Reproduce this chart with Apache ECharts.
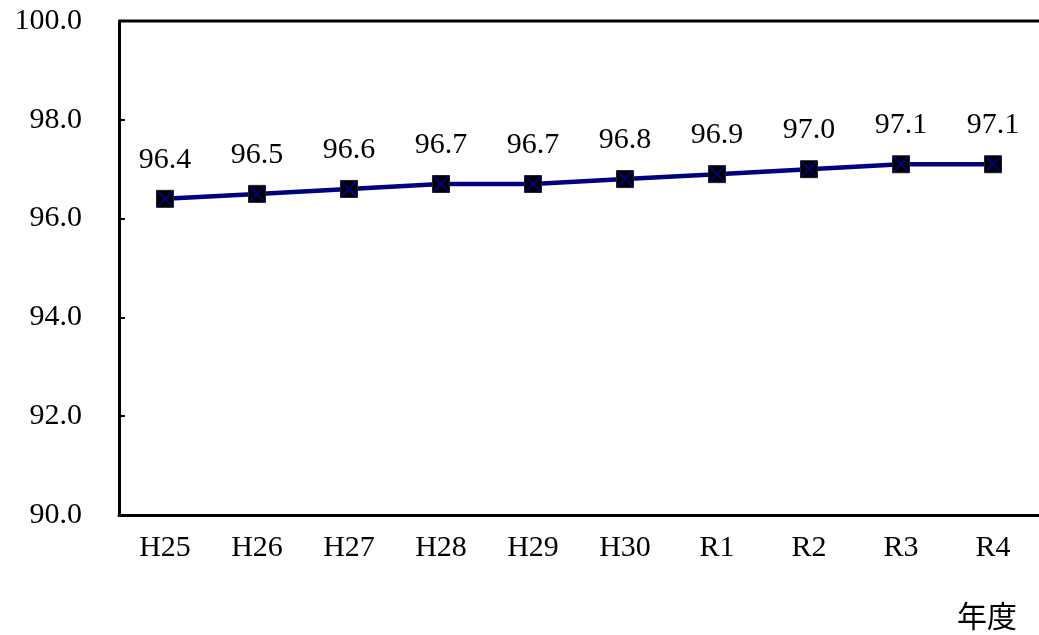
<!DOCTYPE html>
<html><head><meta charset="utf-8">
<script src="https://cdn.jsdelivr.net/npm/echarts@6/dist/echarts.min.js"></script>
<style>html,body{margin:0;padding:0;background:#fff}#c{width:1039px;height:635px}</style>
</head><body><div id="c"></div>
<script>
const categories = ['H25','H26','H27','H28','H29','H30','R1','R2','R3','R4'];
const values = [96.4,96.5,96.6,96.7,96.7,96.8,96.9,97.0,97.1,97.1];
const yMin = 90, yMax = 100, yStep = 2;
const axisName = '年度';

const font = '"Liberation Serif","DejaVu Serif","Noto Sans CJK JP",serif';
const chart = echarts.init(document.getElementById('c'));
chart.setOption({
  animation: false,
  backgroundColor: '#fff',
  grid: { left: 119, top: 21, width: 930, height: 494 },
  xAxis: {
    type: 'category', data: categories, boundaryGap: true,
    axisLine: { lineStyle: { color: '#000', width: 3 } },
    axisTick: { inside: true, length: 10, lineStyle: { color: '#000', width: 2 } },
    axisLabel: { color: '#000', fontFamily: font, fontSize: 30, margin: 18 },
    splitLine: { show: false }
  },
  yAxis: {
    type: 'value', min: yMin, max: yMax, interval: yStep,
    axisLine: { show: true, lineStyle: { color: '#000', width: 3 } },
    axisTick: { show: true, inside: true, length: 6, lineStyle: { color: '#000', width: 2 } },
    axisLabel: { color: '#000', fontFamily: font, fontSize: 30, margin: 37,
      formatter: v => v.toFixed(1) },
    splitLine: { show: false }
  },
  graphic: [
    { type: 'line', shape: { x1: 119, y1: 21, x2: 1039, y2: 21 }, style: { stroke: '#000', lineWidth: 3 } },
    { type: 'text', left: 957, top: 601, style: { text: axisName, font: '30px "Noto Sans CJK JP",serif', fill: '#000' } }
  ],
  series: [
    {
      type: 'line', data: values, symbol: 'rect', symbolSize: 17,
      lineStyle: { color: '#000080', width: 4.5 },
      itemStyle: { color: '#000', borderColor: '#222', borderWidth: 1 },
      label: { show: true, position: 'top', distance: 15, color: '#000', fontFamily: font, fontSize: 30,
        formatter: p => p.value.toFixed(1) },
      z: 2
    },
    {
      type: 'line', data: values, symbol: 'path://M0,0 L10,10 M10,0 L0,10', symbolSize: 15,
      lineStyle: { opacity: 0 },
      itemStyle: { color: 'rgba(0,0,0,0)', borderColor: '#000080', borderWidth: 2 },
      z: 3, silent: true
    }
  ]
});
</script></body></html>
